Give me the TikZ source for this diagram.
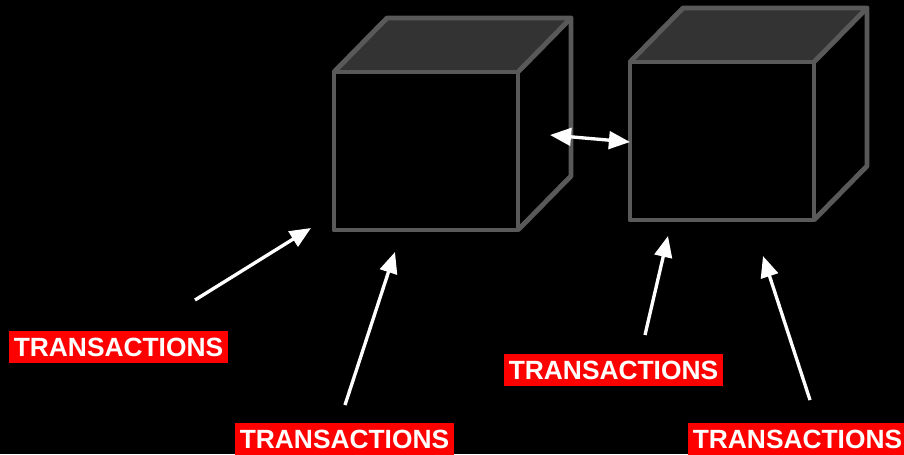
\documentclass[tikz,border=0pt]{standalone}
\usepackage{fontspec}
\setmainfont{Liberation Sans}
\usetikzlibrary{positioning,arrows.meta}
\definecolor{edgegray}{HTML}{595959}
\definecolor{topgray}{HTML}{333333}
\definecolor{tagred}{HTML}{FF0000}

\tikzset{
  cube/.style={draw=edgegray, line width=2.8pt, line join=round},
  tag/.style={fill=tagred, text=white, font=\bfseries\fontsize{15}{18}\selectfont,
    inner xsep=2.5pt, inner ysep=0pt, minimum height=18pt, text height=11pt, text depth=0pt},
  push/.style={white, line width=1.9pt, -{Triangle[length=12pt,width=10pt]}},
  link/.style={white, line width=1.9pt, {Triangle[length=12pt,width=10pt]}-{Triangle[length=12pt,width=10pt]}},
}

\begin{document}
\begin{tikzpicture}[x=0.02cm, y=-0.02cm]
    \fill[black] (0,0) rectangle (904,454);
    \useasboundingbox (0,0) rectangle (904,454);

    % the two blocks
    \foreach \cx/\cy [count=\i] in {334/72, 630/62} {
        \fill[topgray] (\cx,\cy) -- ++(53,-54) -- ++(184,0) -- ++(-53,54) -- cycle;
        \draw[cube] (\cx,\cy) rectangle ++(184,158);
        \draw[cube] (\cx,\cy) -- ++(53,-54) -- ++(184,0) -- ++(0,158) -- ++(-53,54);
        \draw[cube] (\cx+184,\cy) -- ++(53,-54);
    }

    % labels
    \node[tag] (tx1) at (118.5,347) {TRANSACTIONS};
    \node[tag] (tx2) at (344.5,439) {TRANSACTIONS};
    \node[tag] (tx3) at (613.5,370) {TRANSACTIONS};
    \node[tag] (tx4) at (797.5,439) {TRANSACTIONS};

    % arrow ends
    \coordinate (a1) at (195,300);  \coordinate (b1) at (311,228);
    \coordinate (a2) at (345,405);  \coordinate (b2) at (395,252);
    \coordinate (a3) at (645,335);  \coordinate (b3) at (668,236);
    \coordinate (a4) at (810,400);  \coordinate (b4) at (763,256);
    \coordinate (l1) at (550,135);  \coordinate (l2) at (630,142);

    \draw[push] (a1) -- (b1);
    \draw[push] (a2) -- (b2);
    \draw[push] (a3) -- (b3);
    \draw[push] (a4) -- (b4);
    \draw[link] (l1) -- (l2); % between the blocks
\end{tikzpicture}
\end{document}
